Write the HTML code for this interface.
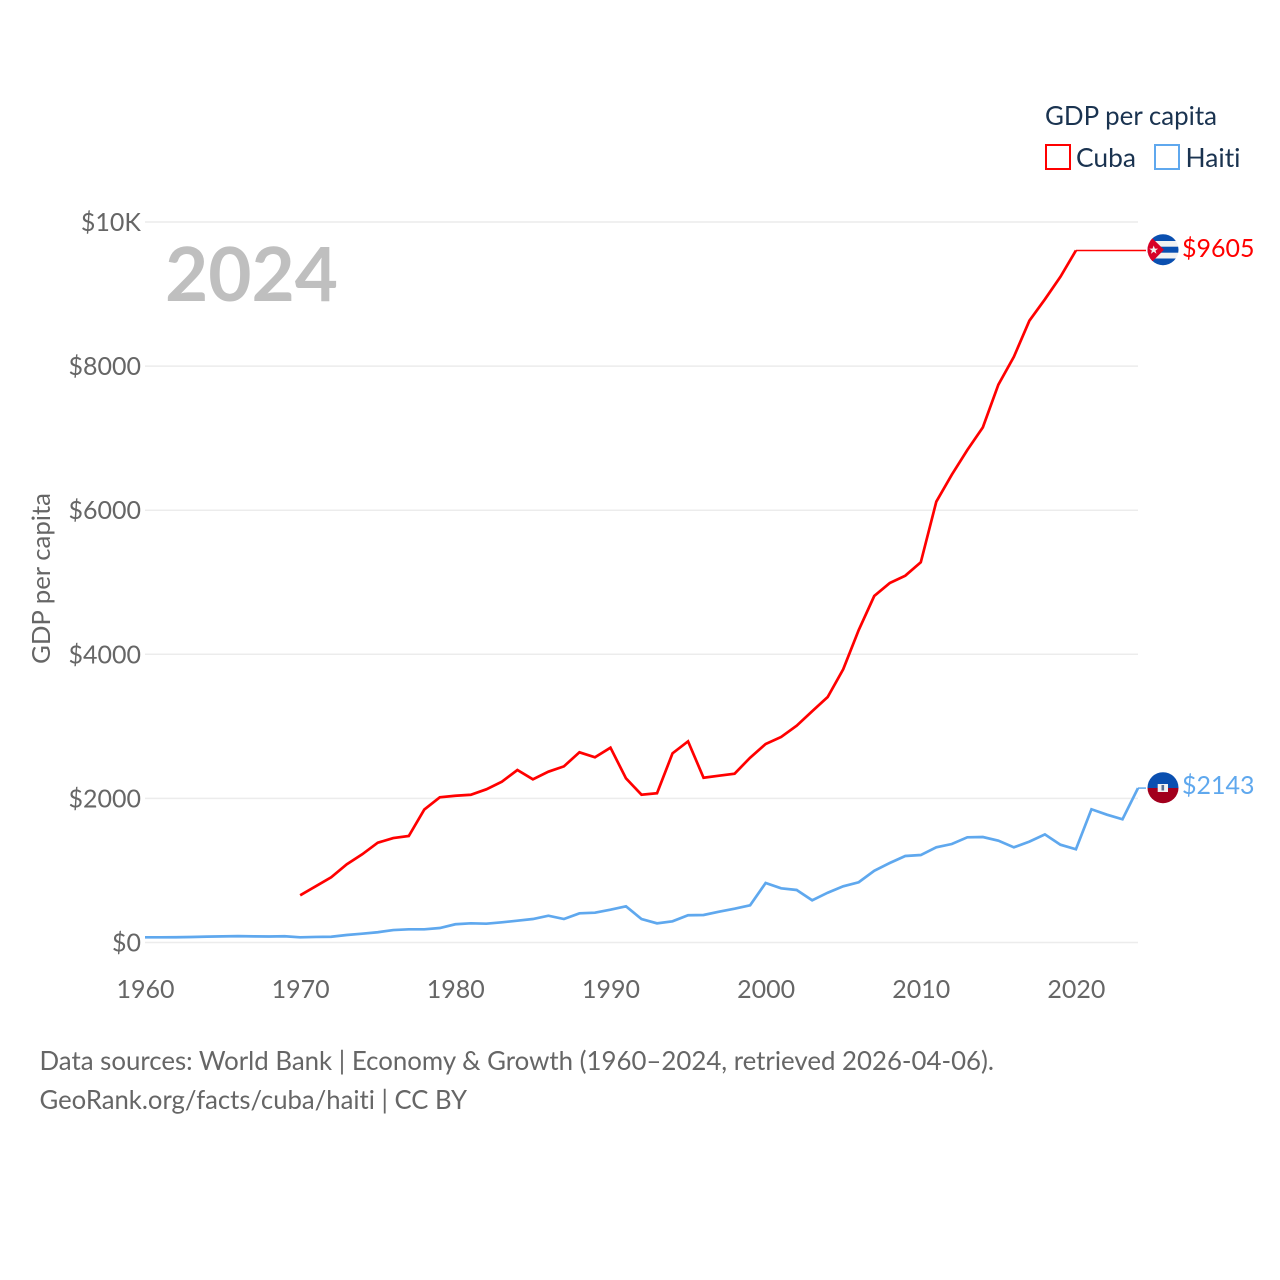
<!DOCTYPE html>
<html lang="en">
<head>
<meta charset="utf-8">
<title>GDP per capita: Cuba and Haiti</title>
<style>
html,body{margin:0;padding:0;background:#fff;width:1280px;height:1280px;overflow:hidden}
svg{display:block;font-family:"Lato","Carlito","Liberation Sans",sans-serif}
text{font-kerning:normal;font-variant-ligatures:none}
</style>
</head>
<body>
<svg id="chart" width="1280" height="1280" viewBox="0 0 1280 1280" xmlns="http://www.w3.org/2000/svg">
  <defs>
    <clipPath id="cuba-clip"><circle cx="1163" cy="249.7" r="15.5"/></clipPath>
    <clipPath id="haiti-clip"><circle cx="1163" cy="787.7" r="15.5"/></clipPath>
  </defs>
  <g id="grid"></g>
  <g id="y-ticks"></g>
  <g id="x-ticks"></g>
  <text transform="translate(50,578.5) rotate(-90)" text-anchor="middle" font-size="25.6" textLength="171" lengthAdjust="spacingAndGlyphs" fill="#666666">GDP per capita</text>
  <text x="165" y="301" font-size="75" font-weight="700" textLength="173" lengthAdjust="spacingAndGlyphs" fill="#bfbfbf">2024</text>
  <g id="series"></g>

  <g clip-path="url(#cuba-clip)">
    <rect x="1147" y="234" width="32" height="32" fill="#f2f2f2"/>
    <rect x="1147" y="234" width="32" height="7" fill="#0a4fb0"/>
    <rect x="1147" y="246.7" width="32" height="6" fill="#0a4fb0"/>
    <rect x="1147" y="258.5" width="32" height="7.5" fill="#0a4fb0"/>
    <polygon points="1147,234 1148,234 1164,249.7 1148,266 1147,266" fill="#d80027"/>
    <polygon points="1153.7,245.5 1154.9,248.6 1158.1,248.6 1155.5,250.6 1156.5,253.8 1153.7,251.8 1150.9,253.8 1151.9,250.6 1149.3,248.6 1152.5,248.6" fill="#f2f2f2"/>
  </g>
  <g clip-path="url(#haiti-clip)">
    <rect x="1147" y="772" width="32" height="16" fill="#0a4fb0"/>
    <rect x="1147" y="788" width="32" height="16" fill="#a2001d"/>
    <rect x="1157.7" y="784" width="10.3" height="8" fill="#f2f2f2"/>
    <rect x="1161.5" y="785" width="2.6" height="5.5" fill="#5a6f92"/>
  </g>

  <text id="cuba-value" x="1182" y="257" font-size="25" fill="#ff0000">$9605</text>
  <text id="haiti-value" x="1182" y="794" font-size="25" fill="#5fa8ee">$2143</text>

  <g>
    <text x="1045" y="125" font-size="26" textLength="172" lengthAdjust="spacingAndGlyphs" fill="#1a3350">GDP per capita</text>
    <rect x="1046" y="145" width="24" height="24" fill="none" stroke="#ff0000" stroke-width="2"/>
    <text x="1076" y="167" font-size="26.5" textLength="60" lengthAdjust="spacingAndGlyphs" fill="#1a3350">Cuba</text>
    <rect x="1155" y="145" width="24" height="24" fill="none" stroke="#5fa8ee" stroke-width="2"/>
    <text x="1185.5" y="167" font-size="26.5" textLength="55" lengthAdjust="spacingAndGlyphs" fill="#1a3350">Haiti</text>
  </g>

  <text x="39.5" y="1070" font-size="26" textLength="954.5" lengthAdjust="spacingAndGlyphs" fill="#666666">Data sources: World Bank | Economy &amp; Growth (1960–2024, retrieved 2026-04-06).</text>
  <text x="39.5" y="1109" font-size="26" textLength="427.5" lengthAdjust="spacingAndGlyphs" fill="#666666">GeoRank.org/facts/cuba/haiti | CC BY</text>
</svg>
<script>
const firstYear = 1960;
const lastYear = 2024;
const xTickValues = [1960, 1970, 1980, 1990, 2000, 2010, 2020];
const yTickValues = [0, 2000, 4000, 6000, 8000, 10000];
const yTickLabels = ["$0", "$2000", "$4000", "$6000", "$8000", "$10K"];

const cubaStartYear = 1970;
const cubaValues = [655, 780, 905, 1085, 1224, 1385, 1450, 1478, 1845, 2015,
  2037, 2051, 2126, 2232, 2394, 2265, 2371, 2445, 2640, 2570,
  2704, 2279, 2051, 2071, 2626, 2792, 2287, 2315, 2343, 2565,
  2755, 2852, 3009, 3209, 3407, 3792, 4337, 4809, 4989, 5091,
  5277, 6118, 6493, 6835, 7150, 7742, 8130, 8630, 8927, 9240, 9605];

const haitiStartYear = 1960;
const haitiValues = [72, 72, 73, 76, 82, 85, 88, 85, 83, 87,
  72, 77, 80, 104, 122, 142, 173, 183, 183, 201,
  253, 266, 261, 280, 303, 326, 372, 326, 405, 414,
  455, 502, 326, 266, 294, 378, 382, 427, 469, 516,
  826, 752, 729, 586, 691, 780, 836, 996, 1103, 1201,
  1214, 1321, 1367, 1460, 1464, 1413, 1321, 1400, 1500, 1357,
  1294, 1849, 1774, 1710, 2143];

const SVG_NS = "http://www.w3.org/2000/svg";
const xAt = function (year) { return 145 + (year - firstYear) * (1138 - 145) / (lastYear - firstYear); };
const yAt = function (value) { return 942.5 - value * (942.5 - 222) / 10000; };

const gridLayer = document.getElementById("grid");
const yTickLayer = document.getElementById("y-ticks");
const xTickLayer = document.getElementById("x-ticks");
const seriesLayer = document.getElementById("series");

yTickValues.forEach(function (value, i) {
  const line = document.createElementNS(SVG_NS, "line");
  
  
  line.setAttribute("x1", 145);
  line.setAttribute("x2", 1138);
  line.setAttribute("y1", yAt(value));
  line.setAttribute("y2", yAt(value));
  line.setAttribute("stroke", "#ececec");
  line.setAttribute("stroke-width", 1.5);
  gridLayer.appendChild(line);

  const label = document.createElementNS(SVG_NS, "text");
  
  
  label.setAttribute("x", 141);
  label.setAttribute("y", yAt(value) + 9);
  label.setAttribute("text-anchor", "end");
  label.setAttribute("font-size", 25);
  label.setAttribute("fill", "#666666");
  label.textContent = yTickLabels[i];
  yTickLayer.appendChild(label);
});

xTickValues.forEach(function (year) {
  const label = document.createElementNS(SVG_NS, "text");
  
  
  label.setAttribute("x", xAt(year) + 0.5);
  label.setAttribute("y", 998);
  label.setAttribute("text-anchor", "middle");
  label.setAttribute("font-size", 25);
  label.setAttribute("fill", "#666666");
  label.textContent = String(year);
  xTickLayer.appendChild(label);
});

function pointsFor(values, startYear) {
  return values.map(function (value, i) {
    return xAt(startYear + i).toFixed(2) + "," + yAt(value).toFixed(2);
  }).join(" ");
}

const cubaLine = document.createElementNS(SVG_NS, "polyline");


cubaLine.setAttribute("points", pointsFor(cubaValues, cubaStartYear));
cubaLine.setAttribute("fill", "none");
cubaLine.setAttribute("stroke", "#ff0000");
cubaLine.setAttribute("stroke-width", 2.7);
seriesLayer.appendChild(cubaLine);

const haitiLine = document.createElementNS(SVG_NS, "polyline");


haitiLine.setAttribute("points", pointsFor(haitiValues, haitiStartYear));
haitiLine.setAttribute("fill", "none");
haitiLine.setAttribute("stroke", "#5fa8ee");
haitiLine.setAttribute("stroke-width", 2.7);
seriesLayer.appendChild(haitiLine);

const cubaLast = cubaValues[cubaValues.length - 1];
const cubaLastX = xAt(cubaStartYear + cubaValues.length - 1);
const cubaConnector = document.createElementNS(SVG_NS, "line");


cubaConnector.setAttribute("x1", cubaLastX);
cubaConnector.setAttribute("x2", 1146);
cubaConnector.setAttribute("y1", yAt(cubaLast));
cubaConnector.setAttribute("y2", yAt(cubaLast));
cubaConnector.setAttribute("stroke", "#ff0000");
cubaConnector.setAttribute("stroke-width", 1.5);
seriesLayer.appendChild(cubaConnector);

const haitiLast = haitiValues[haitiValues.length - 1];
const haitiConnector = document.createElementNS(SVG_NS, "line");


haitiConnector.setAttribute("x1", xAt(lastYear));
haitiConnector.setAttribute("x2", 1146);
haitiConnector.setAttribute("y1", yAt(haitiLast));
haitiConnector.setAttribute("y2", yAt(haitiLast));
haitiConnector.setAttribute("stroke", "#5fa8ee");
haitiConnector.setAttribute("stroke-width", 1.5);
seriesLayer.appendChild(haitiConnector);
</script>
</body>
</html>
